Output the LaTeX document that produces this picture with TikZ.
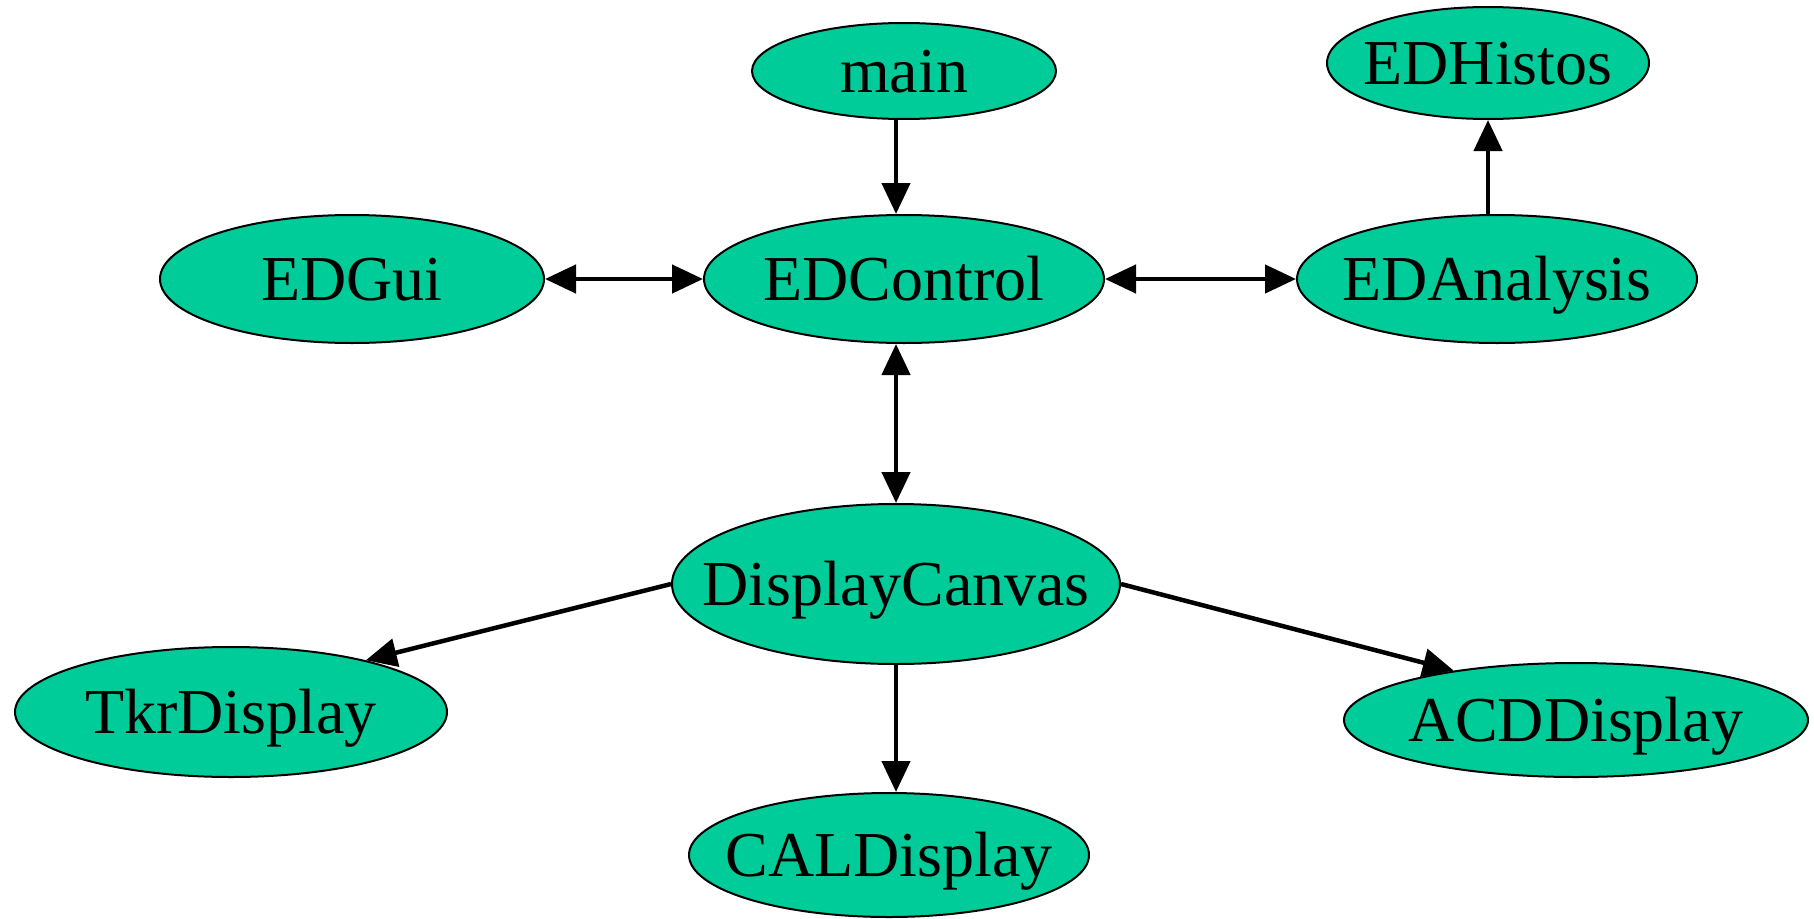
\documentclass[tikz,border=0pt]{standalone}
\usepackage{fontspec}
\setmainfont{Liberation Serif}
\usetikzlibrary{arrows.meta,shapes.geometric}
\definecolor{nodefill}{RGB}{0,204,153}
\begin{document}
\begin{tikzpicture}[x=1pt,y=-1pt,
  ell/.style={draw=black, line width=2pt, fill=nodefill, ellipse, inner sep=0pt},
  lbl/.style={font=\fontsize{64}{70}\selectfont, text height=42pt, text depth=0pt, inner sep=0pt},
  edge/.style={line width=4.5pt, draw=black},
  hd/.style={edge, -{Triangle[length=31pt,width=28pt]}},
  dbl/.style={edge, {Triangle[length=31pt,width=28pt]}-{Triangle[length=31pt,width=28pt]}}]
\useasboundingbox (0,0) rectangle (1814,918);

\node[ell, minimum width=304pt, minimum height=96pt, label={[lbl]center:main}] (main) at (904,71) {};
\node[ell, minimum width=322pt, minimum height=112pt, label={[lbl]center:EDHistos}] (EDHistos) at (1488,63) {};
\node[ell, minimum width=384pt, minimum height=128pt, label={[lbl]center:EDGui}] (EDGui) at (352,279) {};
\node[ell, minimum width=400pt, minimum height=128pt, label={[lbl]center:EDControl}] (EDControl) at (904,279) {};
\node[ell, minimum width=400pt, minimum height=128pt, label={[lbl]center:EDAnalysis}] (EDAnalysis) at (1497,279) {};
\node[ell, minimum width=448pt, minimum height=160pt, label={[lbl]center:DisplayCanvas}] (DisplayCanvas) at (896,584) {};
\node[ell, minimum width=432pt, minimum height=130pt, label={[lbl]center:TkrDisplay}] (TkrDisplay) at (231,712) {};
\node[ell, minimum width=464pt, minimum height=114pt, label={[lbl]center:ACDDisplay}] (ACDDisplay) at (1576,720) {};
\node[ell, minimum width=400pt, minimum height=124pt, label={[lbl]center:CALDisplay}] (CALDisplay) at (889,855) {};

\draw[hd] (DisplayCanvas.north |- main.south) -- (DisplayCanvas.north |- EDControl.north);
\draw[hd] (EDHistos.south |- EDAnalysis.north) -- (EDHistos.south);
\draw[dbl] (EDGui.east) -- (EDControl.west);
\draw[dbl] (EDControl.east) -- (EDAnalysis.west);
\draw[dbl] (DisplayCanvas.north |- EDControl.south) -- (DisplayCanvas.north);
\draw[hd] (DisplayCanvas.west) -- (TkrDisplay.21);
\draw[hd] (DisplayCanvas.east) -- (ACDDisplay.158);
\draw[hd] (DisplayCanvas.south) -- (DisplayCanvas.south |- CALDisplay.north);
\end{tikzpicture}
\end{document}
